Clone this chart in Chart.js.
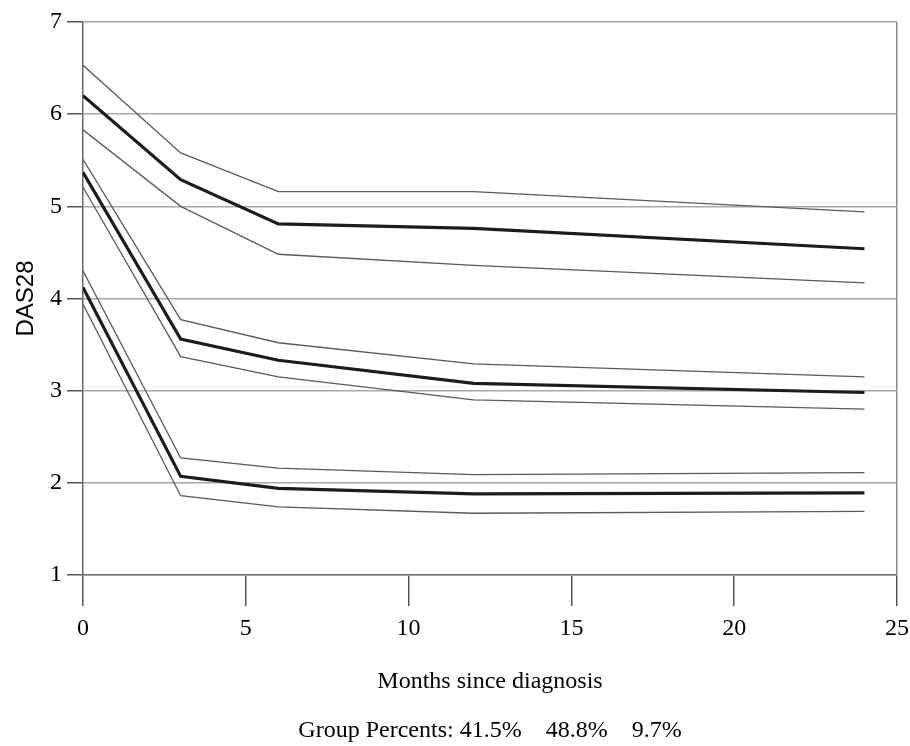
<!DOCTYPE html>
<html>
<head>
<meta charset="utf-8">
<title>DAS28 trajectories</title>
<script src="https://cdn.jsdelivr.net/npm/chart.js@4/dist/chart.umd.min.js"></script>
<style>
  html, body { margin: 0; padding: 0; background: #fff; }
  #wrap { width: 910px; height: 746px; }
</style>
</head>
<body>
<div id="wrap"><canvas id="das28Chart" width="910" height="746"></canvas></div>
<script>
// ── DADOS ─────────────────────────────────────────
const months = [0, 3, 6, 12, 24];
const xTicks = [0, 5, 10, 15, 20, 25];
const yTicks = [1, 2, 3, 4, 5, 6, 7];
const groupPercents = ['41.5%', '48.8%', '9.7%'];

// grupo alto
const highMean  = [6.20, 5.29, 4.81, 4.76, 4.54];
const highUpper = [6.53, 5.58, 5.16, 5.16, 4.94];
const highLower = [5.83, 5.00, 4.48, 4.36, 4.17];

// grupo moderado
const modMean  = [5.37, 3.56, 3.33, 3.08, 2.98];
const modUpper = [5.51, 3.77, 3.52, 3.29, 3.15];
const modLower = [5.21, 3.37, 3.15, 2.90, 2.80];

// grupo baixo
const lowMean  = [4.12, 2.07, 1.94, 1.88, 1.89];
const lowUpper = [4.30, 2.27, 2.16, 2.09, 2.11];
const lowLower = [3.94, 1.86, 1.74, 1.67, 1.69];

// ── ESTILOS ───────────────────────────────────────
const SERIF = '"Liberation Serif", "Times New Roman", serif';
const SANS  = '"Liberation Sans", Arial, sans-serif';

function toPoints(values) {
  return months.map((m, i) => ({ x: m, y: values[i] }));
}

function meanLine(label, values) {
  return { label, data: toPoints(values), borderColor: '#1c1c1c', borderWidth: 3.2,
           pointRadius: 0, tension: 0, fill: false };
}

function ciLine(label, values) {
  return { label, data: toPoints(values), borderColor: '#5a5a5a', borderWidth: 1.3,
           pointRadius: 0, tension: 0, fill: false };
}

const datasets = [
  ciLine('Alto sup', highUpper), meanLine('Alto', highMean), ciLine('Alto inf', highLower),
  ciLine('Moderado sup', modUpper), meanLine('Moderado', modMean), ciLine('Moderado inf', modLower),
  ciLine('Baixo sup', lowUpper), meanLine('Baixo', lowMean), ciLine('Baixo inf', lowLower),
];

new Chart(document.getElementById('das28Chart'), {
  type: 'line',
  data: { datasets },
  options: {
    responsive: false,
    animation: false,
    layout: { padding: { top: 22, right: 13, bottom: 0, left: 0 } },
    plugins: {
      legend: { display: false },
      tooltip: { enabled: false },
    },
    scales: {
      x: {
        type: 'linear',
        min: 0, max: 25,
        afterBuildTicks: s => { s.ticks = xTicks.map(v => ({ value: v })); },
        afterFit: s => { s.height = 171; s.paddingRight = 0; },
        grid: {
          drawOnChartArea: true,
          color: c => (c.tick && c.tick.value === 25 ? '#8a8a8a' : 'rgba(0,0,0,0)'),
          lineWidth: 1.5,
          tickColor: '#555',
          tickLength: 31,
        },
        border: { display: true, color: '#777', width: 1.5 },
        ticks: { color: '#000', padding: 8, font: { family: SERIF, size: 24 } },
        title: {
          display: true,
          // segunda linha = percentuais dos grupos
          text: ['Months since diagnosis', 'Group Percents: ' + groupPercents.join('    ')],
          color: '#000',
          font: { family: SERIF, size: 24, lineHeight: '49px' },
          padding: { top: 0, bottom: -9.5 },
        },
      },
      y: {
        min: 1, max: 7,
        afterBuildTicks: s => { s.ticks = yTicks.map(v => ({ value: v })); },
        afterFit: s => { s.width = 83; },
        grid: {
          color: '#a8a8a8',
          lineWidth: 1.5,
          tickColor: '#555',
          tickLength: 16,
        },
        border: { display: true, color: '#666', width: 1.5 },
        ticks: { color: '#000', padding: 5, font: { family: SERIF, size: 24 } },
        title: {
          display: true,
          text: 'DAS28',
          color: '#000',
          font: { family: SANS, size: 24 },
          padding: { top: 12, bottom: 0 },
        },
      },
    },
  },
});
</script>
</body>
</html>
